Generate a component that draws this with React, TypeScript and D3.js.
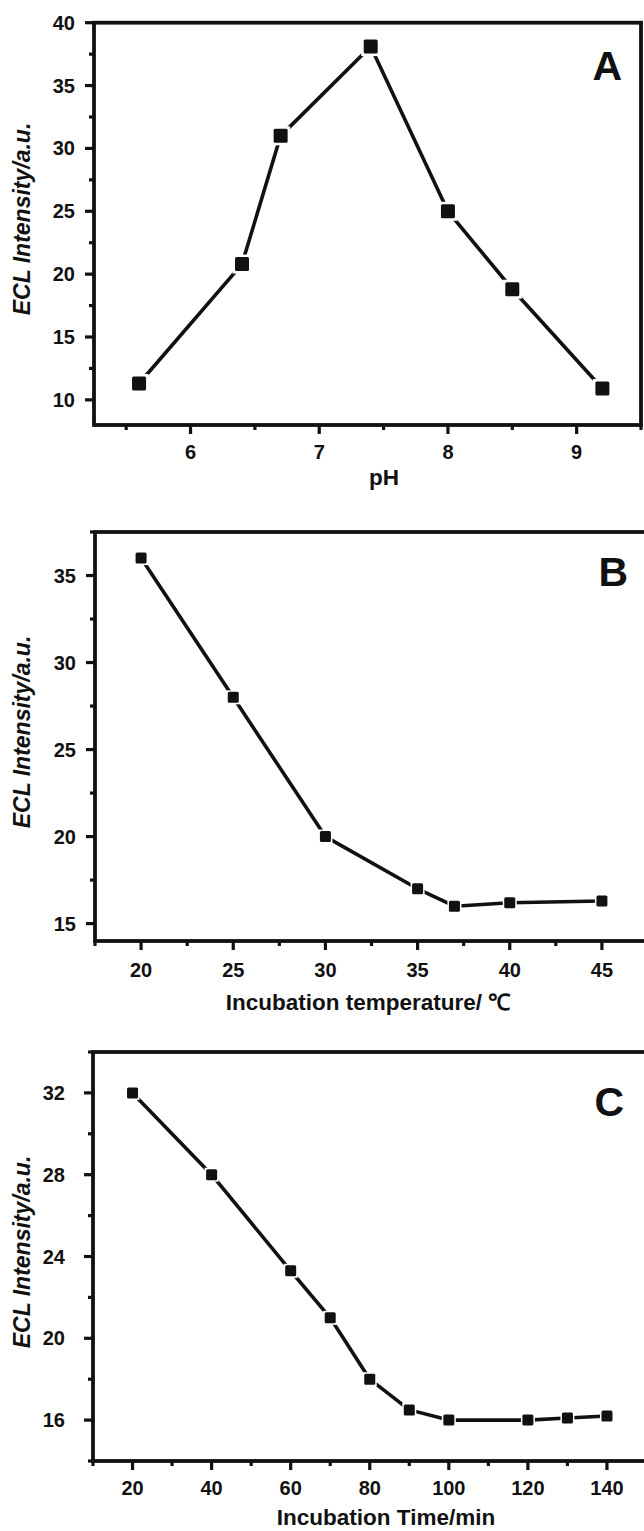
import React from "react";
import * as d3 from "d3";

// ---- Data ----
const phX = [5.6, 6.4, 6.7, 7.4, 8.0, 8.5, 9.2];
const phY = [11.3, 20.8, 31.0, 38.1, 25.0, 18.8, 10.9];

const tempX = [20, 25, 30, 35, 37, 40, 45];
const tempY = [36.0, 28.0, 20.0, 17.0, 16.0, 16.2, 16.3];

const timeX = [20, 40, 60, 70, 80, 90, 100, 120, 130, 140];
const timeY = [32.0, 28.0, 23.3, 21.0, 18.0, 16.5, 16.0, 16.0, 16.1, 16.2];

const phMajorX = [6, 7, 8, 9];
const phMinorX = [5.5, 6.5, 7.5, 8.5, 9.5];
const phMajorY = [10, 15, 20, 25, 30, 35, 40];
const phMinorY = [12.5, 17.5, 22.5, 27.5, 32.5, 37.5];

const tempMajorX = [20, 25, 30, 35, 40, 45];
const tempMinorX = [17.5, 22.5, 27.5, 32.5, 37.5, 42.5, 47.5];
const tempMajorY = [15, 20, 25, 30, 35];
const tempMinorY = [17.5, 22.5, 27.5, 32.5, 37.5];

const timeMajorX = [20, 40, 60, 80, 100, 120, 140];
const timeMinorX = [10, 30, 50, 70, 90, 110, 130, 150];
const timeMajorY = [16, 20, 24, 28, 32];
const timeMinorY = [14, 18, 22, 26, 30, 34];

const yTitle = "ECL Intensity/a.u.";

type PanelProps = {
  xs: number[];
  ys: number[];
  xDomain: [number, number];
  yDomain: [number, number];
  xRange: [number, number];
  yRange: [number, number];
  majorX: number[];
  minorX: number[];
  majorY: number[];
  minorY: number[];
  letter: string;
  letterPos: [number, number];
  xTitle: string;
  xTitlePos: [number, number];
  yTitleCenter: number;
  yLabelGap: number;
  xLabelY: number;
  marker: number;
  gap: number;
};

const FONT = "'Liberation Sans', Arial, Helvetica, sans-serif";
const INK = "#111";

function Panel(p: PanelProps) {
  const x = d3.scaleLinear().domain(p.xDomain).range(p.xRange);
  const y = d3.scaleLinear().domain(p.yDomain).range(p.yRange);
  const line = d3
    .line<number>()
    .x((_, i) => x(p.xs[i]))
    .y((d) => y(d));
  const [x0, x1] = p.xRange;
  const [yb, yt] = p.yRange;
  const major = 9;
  const minor = 5;
  return (
    <g>
      <path d={line(p.ys) || ""} fill="none" stroke={INK} strokeWidth={3.6} strokeLinejoin="round" />
      {p.ys.map((v, i) => (
        <rect
          key={"w" + i}
          x={x(p.xs[i]) - p.marker / 2 - p.gap}
          y={y(v) - p.marker / 2 - p.gap}
          width={p.marker + 2 * p.gap}
          height={p.marker + 2 * p.gap}
          fill="#fff"
        />
      ))}
      {p.ys.map((v, i) => (
        <rect
          key={"m" + i}
          x={x(p.xs[i]) - p.marker / 2}
          y={y(v) - p.marker / 2}
          width={p.marker}
          height={p.marker}
          rx={1.5}
          fill={INK}
        />
      ))}
      <rect x={x0} y={yt} width={x1 - x0} height={yb - yt} fill="none" stroke={INK} strokeWidth={3.8} />
      {p.majorX.map((t) => (
        <line key={"xM" + t} x1={x(t)} x2={x(t)} y1={yb} y2={yb + major} stroke={INK} strokeWidth={3.2} />
      ))}
      {p.minorX.map((t) => (
        <line key={"xm" + t} x1={x(t)} x2={x(t)} y1={yb} y2={yb + minor} stroke={INK} strokeWidth={3.2} />
      ))}
      {p.majorY.map((t) => (
        <line key={"yM" + t} x1={x0} x2={x0 - major} y1={y(t)} y2={y(t)} stroke={INK} strokeWidth={3.2} />
      ))}
      {p.minorY.map((t) => (
        <line key={"ym" + t} x1={x0} x2={x0 - minor} y1={y(t)} y2={y(t)} stroke={INK} strokeWidth={3.2} />
      ))}
      {p.majorX.map((t) => (
        <text
          key={"xl" + t}
          x={x(t)}
          y={p.xLabelY}
          textAnchor="middle"
          fontFamily={FONT}
          fontWeight="bold"
          fontSize={20}
          fill={INK}
        >
          {t}
        </text>
      ))}
      {p.majorY.map((t) => (
        <text
          key={"yl" + t}
          x={x0 - p.yLabelGap}
          y={y(t) + 7}
          textAnchor="end"
          fontFamily={FONT}
          fontWeight="bold"
          fontSize={20}
          fill={INK}
        >
          {t}
        </text>
      ))}
      <text
        x={p.xTitlePos[0]}
        y={p.xTitlePos[1]}
        textAnchor="middle"
        fontFamily={FONT}
        fontWeight="bold"
        fontSize={22.5}
        fill={INK}
      >
        {p.xTitle}
      </text>
      <text
        transform={`translate(30,${p.yTitleCenter}) rotate(-90)`}
        textAnchor="middle"
        fontFamily={FONT}
        fontWeight="bold"
        fontStyle="italic"
        fontSize={23}
        fill={INK}
      >
        {yTitle}
      </text>
      <text
        x={p.letterPos[0]}
        y={p.letterPos[1]}
        textAnchor="end"
        fontFamily={FONT}
        fontWeight="bold"
        fontSize={41}
        fill={INK}
      >
        {p.letter}
      </text>
    </g>
  );
}

export default function App() {
  return (
    <svg
      width={644}
      height={1531}
      style={{ position: "absolute", left: 0, top: 0, background: "#fff" }}
    >
      <rect width={644} height={1531} fill="#fff" />
      <Panel
        xs={phX}
        ys={phY}
        xDomain={[5.25, 9.5]}
        yDomain={[8, 40]}
        xRange={[94, 641]}
        yRange={[425, 22.7]}
        majorX={phMajorX}
        minorX={phMinorX}
        majorY={phMajorY}
        minorY={phMinorY}
        letter="A"
        letterPos={[622, 80]}
        xTitle="pH"
        xTitlePos={[384, 485]}
        yTitleCenter={219}
        yLabelGap={19}
        xLabelY={459}
        marker={14}
        gap={2.5}
      />
      <Panel
        xs={tempX}
        ys={tempY}
        xDomain={[17.5, 47.5]}
        yDomain={[14, 37.5]}
        xRange={[95, 648]}
        yRange={[941, 532]}
        majorX={tempMajorX}
        minorX={tempMinorX}
        majorY={tempMajorY}
        minorY={tempMinorY}
        letter="B"
        letterPos={[628, 586]}
        xTitle="Incubation temperature/ ℃"
        xTitlePos={[368, 1010]}
        yTitleCenter={732}
        yLabelGap={19}
        xLabelY={977}
        marker={11}
        gap={1.5}
      />
      <Panel
        xs={timeX}
        ys={timeY}
        xDomain={[10, 150]}
        yDomain={[14, 34]}
        xRange={[93, 646.5]}
        yRange={[1461, 1052]}
        majorX={timeMajorX}
        minorX={timeMinorX}
        majorY={timeMajorY}
        minorY={timeMinorY}
        letter="C"
        letterPos={[624, 1116]}
        xTitle="Incubation Time/min"
        xTitlePos={[386, 1525]}
        yTitleCenter={1252}
        yLabelGap={28}
        xLabelY={1495}
        marker={11}
        gap={1.5}
      />
    </svg>
  );
}
